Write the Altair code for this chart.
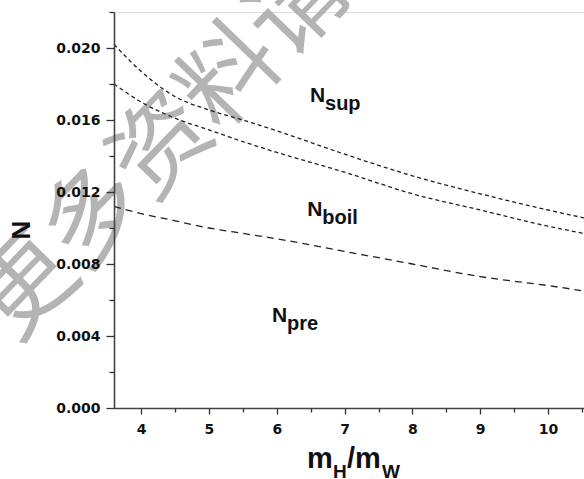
import altair as alt
import pandas as pd

# Mass ratio m_H/m_W and the three boundary curves
ratio = [3.6, 4.0, 4.5, 5.0, 5.5, 6.0, 7.0, 8.0, 9.0, 10.0, 10.53]
n_sup = [0.0202, 0.0187, 0.0173, 0.01656, 0.0160, 0.0154, 0.0141, 0.0129, 0.0119, 0.0110, 0.01056]
n_boil = [0.0180, 0.0170, 0.0161, 0.01545, 0.0148, 0.0142, 0.0131, 0.0119, 0.0110, 0.0101, 0.0097]
n_pre = [0.0112, 0.0108, 0.0104, 0.0100, 0.0097, 0.0094, 0.0087, 0.0080, 0.0073, 0.0068, 0.0065]

x_major = [4, 5, 6, 7, 8, 9, 10]
x_minor = [3.5, 4.5, 5.5, 6.5, 7.5, 8.5, 9.5, 10.5]
y_major = [0.000, 0.004, 0.008, 0.012, 0.016, 0.020]
y_minor = [0.002, 0.006, 0.010, 0.014, 0.018, 0.022]

# Region labels (N + subscript)
label_x = [6.49, 6.45, 5.93]
label_y = [0.0170, 0.01067, 0.00478]
label_sub = ["sup", "boil", "pre"]

watermark = "更多资料请"

AXIS_FONT = "DejaVu Sans"
TEXT_FONT = "Liberation Sans"
INK = "#222222"

x_scale = alt.Scale(domain=[3.6, 10.53], nice=False, zero=False)
y_scale = alt.Scale(domain=[0, 0.022], nice=False, zero=True)

curves = pd.DataFrame({"ratio": ratio, "sup": n_sup, "boil": n_boil, "pre": n_pre})

common_axis = dict(
    grid=False,
    title=None,
    domainColor="#444444",
    domainWidth=1.6,
    tickColor="#333333",
    tickWidth=1.3,
    labelFont=AXIS_FONT,
    labelFontWeight="bold",
    labelFontSize=14,
    labelColor="#111111",
    zindex=1,
)

x_major_axis = alt.Axis(orient="bottom", values=x_major, tickSize=6, labelPadding=8, format="d", **common_axis)
y_major_axis = alt.Axis(orient="left", values=y_major, tickSize=8, labelPadding=6, format=".3f", **common_axis)
x_minor_axis = alt.Axis(orient="bottom", values=x_minor, tickSize=4, labels=False, domain=False,
                        grid=False, title=None, tickColor="#333333", tickWidth=1.3, zindex=1)
y_minor_axis = alt.Axis(orient="left", values=y_minor, tickSize=5, labels=False, domain=False,
                        grid=False, title=None, tickColor="#333333", tickWidth=1.3, zindex=1)

base = alt.Chart(curves)

# Watermark drawn underneath the curves
wm = alt.Chart(pd.DataFrame({"t": [watermark]})).mark_text(
    font="Noto Sans CJK SC", fontSize=98, angle=314, align="center", baseline="middle",
    color="#b0b0b0", opacity=0.95
).encode(x=alt.value(50), y=alt.value(136), text="t:N")

sup_line = base.mark_line(color=INK, strokeWidth=1.3, strokeDash=[4, 3], interpolate="monotone").encode(
    x=alt.X("ratio:Q", scale=x_scale, axis=x_major_axis),
    y=alt.Y("sup:Q", scale=y_scale, axis=y_major_axis),
)
boil_line = base.mark_line(color=INK, strokeWidth=1.3, strokeDash=[4, 3], interpolate="monotone").encode(
    x=alt.X("ratio:Q", scale=x_scale, axis=x_minor_axis),
    y=alt.Y("boil:Q", scale=y_scale, axis=y_minor_axis),
)
pre_line = base.mark_line(color=INK, strokeWidth=1.3, strokeDash=[7, 5], interpolate="monotone").encode(
    x=alt.X("ratio:Q", scale=x_scale, axis=None),
    y=alt.Y("pre:Q", scale=y_scale, axis=None),
)

labels = pd.DataFrame({"x": label_x, "y": label_y, "sub": label_sub, "n": ["N"] * 3})
lab_base = alt.Chart(labels).encode(
    x=alt.X("x:Q", scale=x_scale, axis=None),
    y=alt.Y("y:Q", scale=y_scale, axis=None),
)
lab_n = lab_base.mark_text(font=TEXT_FONT, fontWeight="bold", fontSize=21, align="left",
                           baseline="alphabetic", color="#111111").encode(text="n:N")
lab_sub = lab_base.mark_text(font=TEXT_FONT, fontWeight="bold", fontSize=20, align="left",
                             baseline="alphabetic", color="#111111", dx=15, dy=8).encode(text="sub:N")


# Axis titles with subscripts
def title_part(text, x, y, size, angle=0):
    return alt.Chart(pd.DataFrame({"t": [text]})).mark_text(
        font=TEXT_FONT, fontWeight="bold", fontSize=size, align="left", baseline="alphabetic",
        color="#111111", angle=angle
    ).encode(x=alt.value(x), y=alt.value(y), text="t:N")


xt_m = title_part("m", 193, 456, 29)
xt_h = title_part("H", 219, 466, 19)
xt_slash = title_part("/m", 233, 456, 29)
xt_w = title_part("W", 268, 466, 19)

yt = alt.Chart(pd.DataFrame({"t": ["N"]})).mark_text(
    font=TEXT_FONT, fontWeight="bold", fontSize=26, align="center", baseline="middle",
    color="#111111", angle=270
).encode(x=alt.value(-92), y=alt.value(218), text="t:N")

chart = alt.layer(
    wm, sup_line, boil_line, pre_line, lab_n, lab_sub, xt_m, xt_h, xt_slash, xt_w, yt
).resolve_axis(x="independent", y="independent").properties(
    width=470,
    height=396,
    padding={"left": 114, "top": 12, "right": 0, "bottom": 71},
    autosize="none",
).configure_view(stroke=None).configure(background="white")

chart.save("out.html", embed_options={"renderer": "svg", "actions": False})
